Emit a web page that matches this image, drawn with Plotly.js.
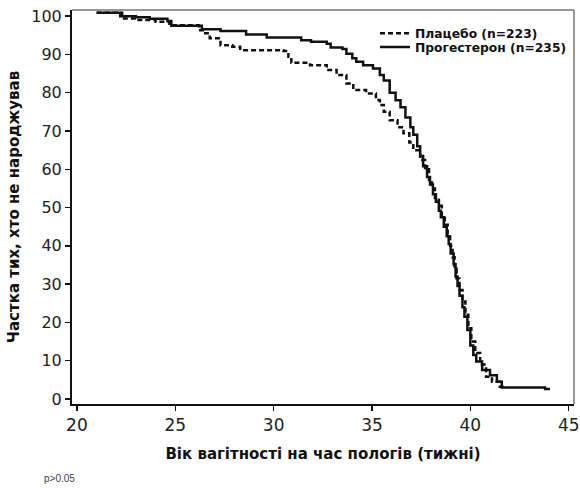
<!DOCTYPE html>
<html>
<head>
<meta charset="utf-8">
<script src="https://cdn.plot.ly/plotly-3.0.1.min.js"></script>
<style>html,body{margin:0;padding:0;background:#fff;}#chart{width:580px;height:488px;}</style>
</head>
<body>
<div id="chart"></div>
<script>
// Series names
const seriesNames = ["Плацебо (n=223)", "Прогестерон (n=235)"];

// Placebo (dashed) Kaplan-Meier curve: gestational week vs % not delivered
const placeboWeeks = [21.0, 22.3, 23.0, 24.0, 24.7, 26.2, 26.4, 26.75, 27.3, 27.9, 28.3, 30.5, 30.75, 30.9, 31.85, 32.7, 33.2, 33.7, 34.05, 34.7, 35.2, 35.4, 35.6, 35.9, 36.3, 36.6, 36.9, 37.1, 37.45, 37.7, 37.9, 38.05, 38.2, 38.4, 38.55, 38.7, 38.85, 38.97, 39.1, 39.2, 39.3, 39.45, 39.6, 39.75, 39.9, 40.05, 40.25, 40.5, 40.8, 41.1, 41.5, 41.7];
const placeboSurv  = [100.9, 99.4, 99.0, 98.5, 97.6, 96.3, 95.5, 94.2, 92.4, 92.0, 91.1, 90.9, 89.4, 87.8, 87.2, 85.9, 84.6, 82.4, 80.7, 79.8, 78.1, 76.8, 75.0, 72.8, 71.0, 69.4, 67.0, 65.0, 62.4, 60.0, 57.2, 55.0, 52.5, 50.5, 48.0, 45.5, 43.0, 40.0, 37.0, 34.0, 31.5, 28.5, 25.5, 22.0, 18.5, 15.0, 12.0, 9.0, 5.8, 4.5, 3.2, 2.6];

// Progesterone (solid) Kaplan-Meier curve
const progWeeks = [21.0, 22.2, 23.0, 23.7, 24.6, 24.8, 26.35, 27.3, 28.6, 29.65, 31.4, 31.9, 32.7, 32.9, 33.5, 33.7, 34.0, 34.2, 34.55, 35.05, 35.4, 35.6, 35.9, 36.2, 36.45, 36.7, 36.95, 37.1, 37.3, 37.45, 37.6, 37.8, 37.95, 38.1, 38.25, 38.4, 38.5, 38.65, 38.8, 38.9, 39.0, 39.15, 39.25, 39.35, 39.45, 39.6, 39.7, 39.85, 40.0, 40.15, 40.3, 40.6, 41.0, 41.35, 41.6, 43.8, 44.05];
const progSurv  = [100.9, 100.0, 99.7, 99.3, 98.7, 97.5, 96.6, 96.1, 95.2, 94.4, 93.7, 93.3, 92.8, 91.8, 91.4, 90.2, 89.0, 88.1, 87.2, 86.3, 84.6, 83.2, 80.0, 78.0, 76.2, 73.5, 71.0, 69.0, 66.0, 63.5, 60.8, 58.0, 56.0, 53.5, 51.5, 49.2, 47.5, 45.0, 42.5, 40.5, 38.0, 35.2, 32.0, 29.5, 27.0, 24.0, 21.5, 18.0, 14.0, 11.5, 9.8, 7.6, 6.2, 4.5, 3.0, 2.6, 2.6];

// Tick labels
const xTicks = [20, 25, 30, 35, 40, 45];
const yTicks = [0, 10, 20, 30, 40, 50, 60, 70, 80, 90, 100];

const xTitle = "Вік вагітності на час пологів (тижні)";
const yTitle = "Частка тих, хто не народжував";
const note = "p>0.05";

const FONT = "DejaVu Sans, Liberation Sans, Arial, sans-serif";

const traces = [
  {x: placeboWeeks, y: placeboSurv, name: seriesNames[0], type: "scatter", mode: "lines", legend: "legend",
   line: {shape: "hv", color: "#111", width: 2.5, dash: "5px,3px"}},
  {x: progWeeks, y: progSurv, name: seriesNames[1], type: "scatter", mode: "lines", legend: "legend2",
   line: {shape: "hv", color: "#111", width: 2.5}}
];

const legendFont = {family: FONT, size: 12.3, color: "#111", weight: "bold"};

const layout = {
  width: 580, height: 488,
  margin: {l: 72, r: 6, t: 10, b: 84},
  paper_bgcolor: "#fff", plot_bgcolor: "#fff",
  showlegend: true,
  legend: {x: 0.6036, y: 0.941, xanchor: "left", yanchor: "middle",
    bgcolor: "rgba(0,0,0,0)", borderwidth: 0, font: legendFont},
  legend2: {x: 0.6036, y: 0.906, xanchor: "left", yanchor: "middle",
    bgcolor: "rgba(0,0,0,0)", borderwidth: 0, font: legendFont},
  xaxis: {
    range: [19.75, 45.27], tickvals: xTicks, ticktext: xTicks.map(String),
    showgrid: false, zeroline: false, showline: true, linecolor: "#111", linewidth: 2,
    ticks: "outside", ticklen: 5, tickwidth: 1.5, tickcolor: "#111",
    tickfont: {family: FONT, size: 17, color: "#222"},
    title: {text: xTitle, standoff: 14,
      font: {family: FONT, size: 15, color: "#111", weight: "bold"}}
  },
  yaxis: {
    range: [-1.3, 101.6], tickvals: yTicks, ticktext: yTicks.map(String),
    showgrid: false, zeroline: false, showline: true, linecolor: "#111", linewidth: 2,
    ticks: "outside", ticklen: 5, tickwidth: 1.5, tickcolor: "#111",
    tickfont: {family: FONT, size: 16, color: "#222"},
    title: {text: yTitle, standoff: 8,
      font: {family: FONT, size: 15, color: "#111", weight: "bold"}}
  },
  shapes: [
    {type: "line", xref: "paper", yref: "paper", x0: 0, x1: 1, y0: 1, y1: 1, line: {color: "#777", width: 1.5}},
    {type: "line", xref: "paper", yref: "paper", x0: 1, x1: 1, y0: 0, y1: 1, line: {color: "#777", width: 1.5}}
  ],
  annotations: [
    {text: note, xref: "paper", yref: "paper", x: -0.06, y: -0.19, xanchor: "left", yanchor: "middle",
     showarrow: false, font: {family: "Liberation Sans, Arial, sans-serif", size: 10, color: "#444"}}
  ]
};

Plotly.newPlot("chart", traces, layout, {displayModeBar: false, staticPlot: true});
</script>
</body>
</html>
